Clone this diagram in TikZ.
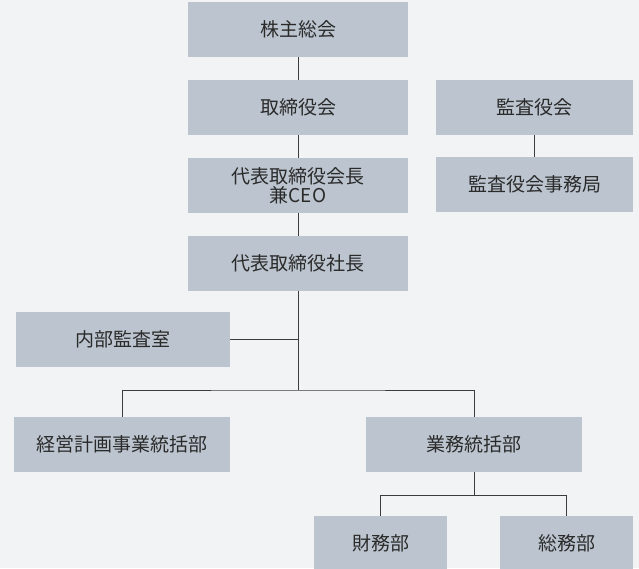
\documentclass[tikz,border=0pt]{standalone}
\usepackage{fontspec}
\setmainfont{Noto Sans CJK JP}
\usetikzlibrary{positioning}
\definecolor{boxgray}{HTML}{BCC5CF}
\definecolor{bggray}{HTML}{F2F3F5}
\definecolor{linegray}{HTML}{3C3C3C}
\definecolor{textgray}{HTML}{2A2A2A}
\tikzstyle{block} = [fill=boxgray, rectangle, text=textgray, align=center,
    inner sep=0pt, minimum height=55pt, minimum width=220pt,
    font=\fontsize{19}{21}\selectfont]
\tikzstyle{link} = [draw=linegray, line width=1pt]

\begin{document}
\begin{tikzpicture}[x=1pt, y=-1pt, node distance=22.5pt]
    % background and size of the page
    \fill [bggray] (0,0) rectangle (639,568);
    \useasboundingbox (0,0) rectangle (639,568);
    \clip (0,0) rectangle (639,568);

    % the main chain
    \node [block] (meeting) at (298,29.5) {株主総会};
    \node [block, below=of meeting] (board) {取締役会};
    \node [block, below=of board] (chair) {代表取締役会長\\[-2pt]兼CEO};
    \node [block, below=of chair] (president) {代表取締役社長};

    % auditors on the right
    \node [block, minimum width=197pt] (audit) at (534.5,107.5) {監査役会};
    \node [block, minimum width=197pt] (auditoffice) at (534.5,184.5) {監査役会事務局};

    % departments
    \node [block, minimum width=214pt] (internal) at (123,339.5) {内部監査室};
    \node [block, minimum width=216pt] (planning) at (122,444.5) {経営計画事業統括部};
    \node [block, minimum width=216pt] (affairs) at (474,444.5) {業務統括部};
    \node [block, minimum width=133pt] (finance) at (380.5,543.5) {財務部};
    \node [block, minimum width=133pt] (general) at (566.5,543.5) {総務部};

    \coordinate (bus) at (298,390);
    \coordinate (subbus) at (474,495);

    % connecting lines
    \draw [link] (meeting) -- (board);
    \draw [link] (board) -- (chair);
    \draw [link] (chair) -- (president);
    \draw [link] (audit) -- (auditoffice);
    \draw [link] (president) -- (bus);
    \draw [link] (internal.east) -- (internal.east -| bus);
    \draw [link] (planning.north) |- (bus) -| (affairs.north);
    \draw [link] (affairs) -- (subbus);
    \draw [link] (finance.north) |- (subbus) -| (general.north);
\end{tikzpicture}
\end{document}
